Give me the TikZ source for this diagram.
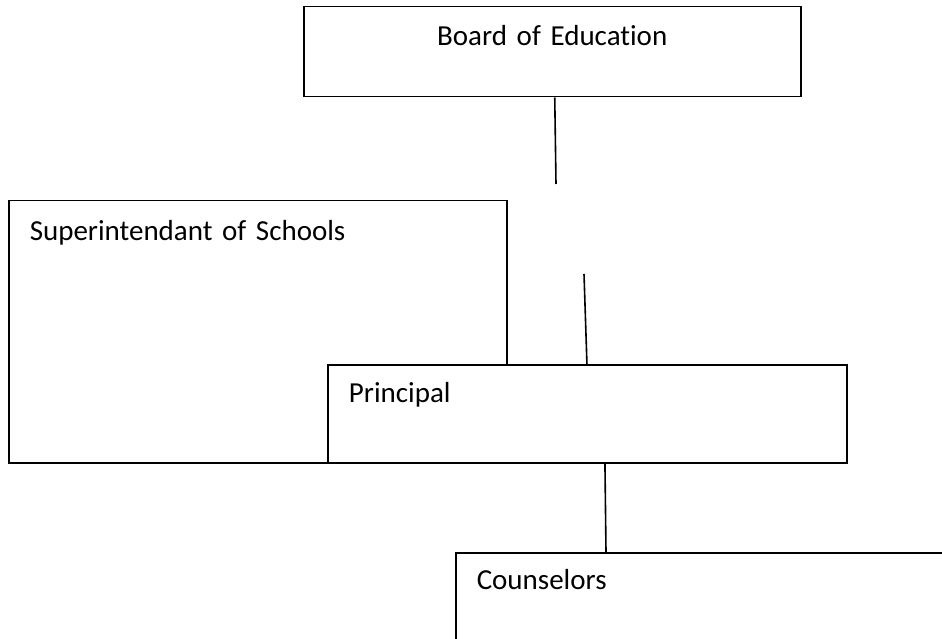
\documentclass[tikz,border=0pt]{standalone}
\usepackage{fontspec}
\setmainfont{Carlito}[Ligatures=NoCommon]
\usepackage{tikz}
\newcommand\orgfont{\fontsize{29}{35}\selectfont}
\tikzset{
  orgbox/.style={draw, fill=white, line width=1.5pt, anchor=north west,
    inner xsep=21pt, inner ysep=0pt, align=left, font=\orgfont},
  link/.style={line width=1.6pt}
}

\begin{document}
\begin{tikzpicture}[x=1pt, y=-1pt]
    \useasboundingbox (0,0) rectangle (942,639);
    \clip (0,0) rectangle (942,639);
    \node[orgbox, align=center, text width=455pt, text height=39pt, text depth=51pt]
      (board) at (303,6) {Board of Education};
    \node[orgbox, text width=456pt, text height=40pt, text depth=222pt]
      (super) at (8,200) {Superintendant of Schools};
    \node[orgbox, line width=1.9pt, text width=477pt, text height=38pt, text depth=60pt]
      (principal) at (327,364) {Principal};
    \node[orgbox, text width=478pt, text height=37pt, text depth=83pt]
      (counselors) at (455,552) {Counselors};
    \coordinate (boardend) at (556,184);
    \coordinate (princstart) at (584,274);
    \draw[link] ([xshift=2.5pt]board.south) -- (boardend);
    \draw[link] (princstart) -- ([xshift=-0.5pt]principal.north);
    \draw[link] ([xshift=17.5pt]principal.south) -- ([xshift=151pt]counselors.north west);
\end{tikzpicture}
\end{document}
